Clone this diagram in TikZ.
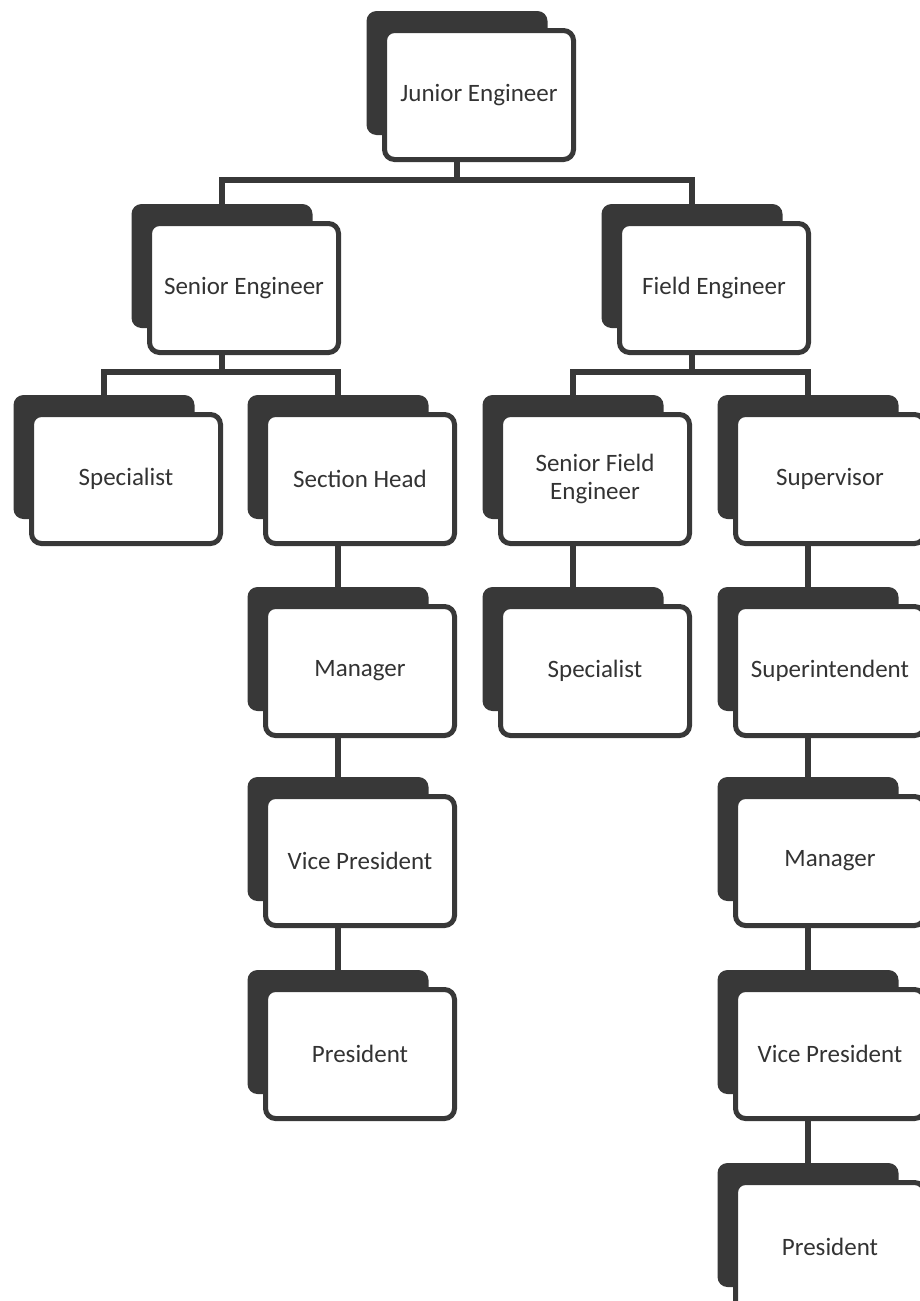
\documentclass[tikz,border=0pt]{standalone}
\usepackage{fontspec}
\setmainfont{Carlito}
\usetikzlibrary{positioning}

\definecolor{cardgray}{HTML}{383838}
\definecolor{textgray}{HTML}{333333}

\begin{document}
\begin{tikzpicture}[
    x=0.5pt, y=-0.5pt,
    back/.style={
        rectangle,
        fill=cardgray,
        rounded corners=5pt,
        minimum width=90.5pt,
        minimum height=62pt,
        inner sep=0pt
    },
    card/.style={
        rectangle,
        draw=cardgray,
        fill=white,
        line width=2.5pt,
        rounded corners=5pt,
        minimum width=94.5pt,
        minimum height=64.5pt,
        inner sep=2pt,
        text=textgray,
        font=\fontsize{12.5}{14}\selectfont,
        text centered,
        align=center
    },
    link/.style={
        draw=cardgray,
        line width=3pt
    }
]
    \useasboundingbox (0,0) rectangle (920,1301);

    % cards: name / x / y / text
    \foreach \n/\x/\y/\t in {
        jr/479/95/{Junior Engineer},
        se/244/288/{Senior Engineer},
        fe/714/288/{Field Engineer},
        sp1/126/479/{Specialist},
        sh/360/479/{Section Head},
        sfe/595/479/{Senior Field\\Engineer},
        sv/830/479/{Supervisor},
        mg1/360/671/{Manager},
        sp2/595/671/{Specialist},
        si/830/671/{Superintendent},
        vp1/360/861/{Vice President},
        mg2/830/861/{Manager},
        pr1/360/1054/{President},
        vp2/830/1054/{Vice President},
        pr2/830/1247/{President}%
    }{
        \node (\n-bk) [back] at (\x-22,\y-22) {};
        \node (\n) [card] at (\x,\y) {\t};
    }

    \coordinate (bar1) at (0,180);
    \coordinate (bar2) at (0,372);

    % junior engineer branches
    \draw[link] (jr-bk |- jr.south) -- (jr-bk |- bar1);
    \draw[link] (se-bk.north) -- (se-bk |- bar1) -- (fe-bk |- bar1) -- (fe-bk.north);

    % senior engineer branches
    \draw[link] (se-bk |- se.south) -- (se-bk |- bar2);
    \draw[link] (sp1-bk.north) -- (sp1-bk |- bar2) -- (sh-bk |- bar2) -- (sh-bk.north);

    % field engineer branches
    \draw[link] (fe-bk |- fe.south) -- (fe-bk |- bar2);
    \draw[link] (sfe-bk.north) -- (sfe-bk |- bar2) -- (sv-bk |- bar2) -- (sv-bk.north);

    % chains
    \draw[link] (sh-bk |- sh.south) -- (mg1-bk.north);
    \draw[link] (mg1-bk |- mg1.south) -- (vp1-bk.north);
    \draw[link] (vp1-bk |- vp1.south) -- (pr1-bk.north);
    \draw[link] (sfe-bk |- sfe.south) -- (sp2-bk.north);
    \draw[link] (sv-bk |- sv.south) -- (si-bk.north);
    \draw[link] (si-bk |- si.south) -- (mg2-bk.north);
    \draw[link] (mg2-bk |- mg2.south) -- (vp2-bk.north);
    \draw[link] (vp2-bk |- vp2.south) -- (pr2-bk.north);
\end{tikzpicture}
\end{document}
